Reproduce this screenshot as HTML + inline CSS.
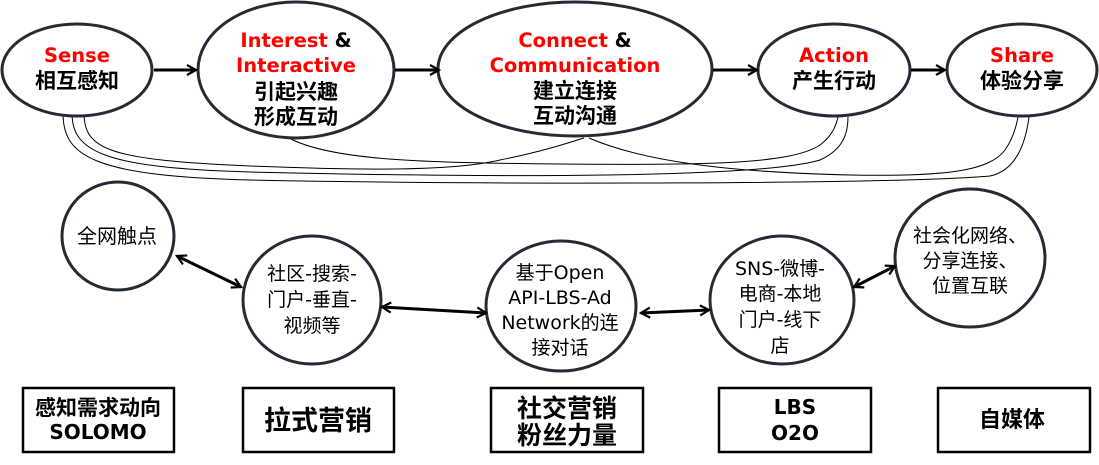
<!DOCTYPE html>
<html><head><meta charset="utf-8"><style>
html,body{margin:0;padding:0;background:#fff;}
svg{display:block;}
.r{fill:#ff0000;font-family:"DejaVu Sans","Noto Sans CJK SC",sans-serif;font-weight:bold;font-size:19.5px;}
.b{fill:#000;font-family:"DejaVu Sans","Noto Sans CJK SC",sans-serif;font-weight:bold;font-size:19.5px;}
.c{fill:#000;font-family:"Liberation Sans","Noto Sans CJK SC",sans-serif;font-weight:bold;font-size:21px;}
.n{fill:#000;font-family:"DejaVu Sans","Noto Sans CJK SC",sans-serif;font-size:19px;}
.bx{fill:#000;font-family:"DejaVu Sans","Noto Sans CJK SC",sans-serif;font-weight:bold;font-size:20px;}
</style></head><body>
<svg width="1099" height="465" viewBox="0 0 1099 465" xmlns="http://www.w3.org/2000/svg">
<defs>
<marker id="a" markerWidth="12" markerHeight="12" refX="10" refY="6" orient="auto" markerUnits="userSpaceOnUse">
<path d="M1,1 L10,6 L1,11" fill="none" stroke="#000" stroke-width="2.2"/>
</marker>
<marker id="s" markerWidth="12" markerHeight="12" refX="2" refY="6" orient="auto" markerUnits="userSpaceOnUse">
<path d="M11,1 L2,6 L11,11" fill="none" stroke="#000" stroke-width="2.2"/>
</marker>
</defs>
<g fill="none" stroke="#000" stroke-width="1">
<path d="M289,138 C330,160 420,163 560,164 C700,165 790,165 820,145 C832,136 836,126 838,117"/>
<path d="M84,113 C84,150 110,160 250,166 C350,170 450,172 500,160 C540,152 565,144 584,138"/>
<path d="M72,113 C72,150 100,168 250,172 C500,178 760,178 820,160 C842,150 848,135 848,117"/>
<path d="M589,138 C640,160 720,172 850,175 C950,177 990,170 1005,150 C1012,140 1016,128 1018,117"/>
<path d="M63,113 C63,155 90,176 250,180 C500,185 900,184 990,176 C1018,170 1026,140 1029,117"/>
</g>
<g fill="#fff" stroke="#262b33" stroke-width="3">
<ellipse cx="77" cy="70" rx="75" ry="46"/>
<ellipse cx="296" cy="70" rx="98" ry="68"/>
<ellipse cx="575" cy="69" rx="137" ry="67"/>
<ellipse cx="834" cy="70" rx="76" ry="46"/>
<ellipse cx="1022" cy="70" rx="75" ry="46"/>
</g>
<g stroke="#000" stroke-width="3" fill="none">
<line x1="154" y1="70" x2="196" y2="70" marker-end="url(#a)"/>
<line x1="395" y1="70" x2="439" y2="70" marker-end="url(#a)"/>
<line x1="713" y1="70" x2="757" y2="70" marker-end="url(#a)"/>
<line x1="911" y1="70" x2="945" y2="70" marker-end="url(#a)"/>
</g>
<g text-anchor="middle">
<text x="77" y="62" class="r">Sense</text>
<text x="77" y="88" class="c">相互感知</text>
<text x="296" y="47"><tspan class="r">Interest</tspan><tspan class="b"> &amp;</tspan></text>
<text x="296" y="72" class="r">Interactive</text>
<text x="296" y="99" class="c">引起兴趣</text>
<text x="296" y="124" class="c">形成互动</text>
<text x="575" y="47"><tspan class="r">Connect</tspan><tspan class="b"> &amp;</tspan></text>
<text x="575" y="72" class="r">Communication</text>
<text x="575" y="98" class="c">建立连接</text>
<text x="575" y="123" class="c">互动沟通</text>
<text x="834" y="62" class="r">Action</text>
<text x="834" y="88" class="c">产生行动</text>
<text x="1022" y="62" class="r">Share</text>
<text x="1022" y="88" class="c">体验分享</text>
</g>
<g fill="#fff" stroke="#262b33" stroke-width="3">
<ellipse cx="118" cy="236" rx="56" ry="54"/>
<ellipse cx="312" cy="300" rx="69" ry="64"/>
<ellipse cx="561" cy="306" rx="75" ry="65"/>
<ellipse cx="782" cy="300" rx="72" ry="64"/>
<ellipse cx="970" cy="258" rx="75" ry="69"/>
</g>
<g stroke="#000" stroke-width="3" fill="none">
<line x1="177" y1="256" x2="241" y2="287" marker-start="url(#s)" marker-end="url(#a)"/>
<line x1="382" y1="307" x2="486" y2="313" marker-start="url(#s)" marker-end="url(#a)"/>
<line x1="641" y1="313" x2="709" y2="310" marker-start="url(#s)" marker-end="url(#a)"/>
<line x1="854" y1="287" x2="895" y2="266" marker-start="url(#s)" marker-end="url(#a)"/>
</g>
<g text-anchor="middle">
<text x="117" y="243" class="n" style="font-size:20px">全网触点</text>
<text x="312" y="280" class="n">社区-搜索-</text>
<text x="312" y="306" class="n">门户-垂直-</text>
<text x="312" y="332" class="n">视频等</text>
<text x="560" y="279" class="n">基于Open</text>
<text x="560" y="304" class="n">API-LBS-Ad</text>
<text x="560" y="329" class="n">Network的连</text>
<text x="560" y="354" class="n">接对话</text>
<text x="780" y="275" class="n">SNS-微博-</text>
<text x="780" y="300" class="n">电商-本地</text>
<text x="780" y="326" class="n">门户-线下</text>
<text x="780" y="352" class="n">店</text>
<text x="970" y="242" class="n">社会化网络、</text>
<text x="970" y="267" class="n">分享连接、</text>
<text x="970" y="292" class="n">位置互联</text>
</g>
<g fill="#fff" stroke="#000" stroke-width="2.5">
<rect x="23" y="388" width="151" height="64"/>
<rect x="243" y="388" width="151" height="64"/>
<rect x="491" y="388" width="152" height="64"/>
<rect x="719" y="388" width="152" height="64"/>
<rect x="938" y="388" width="152" height="64"/>
</g>
<g text-anchor="middle">
<text x="98" y="415" class="c">感知需求动向</text>
<text x="98" y="439" class="bx">SOLOMO</text>
<text x="318" y="430" class="c" style="font-size:27px">拉式营销</text>
<text x="567" y="417" class="c" style="font-size:25px">社交营销</text>
<text x="567" y="444" class="c" style="font-size:25px">粉丝力量</text>
<text x="795" y="414" class="bx">LBS</text>
<text x="795" y="440" class="bx">O2O</text>
<text x="1012" y="427" class="c" style="font-size:22px">自媒体</text>
</g>
</svg>
</body></html>
